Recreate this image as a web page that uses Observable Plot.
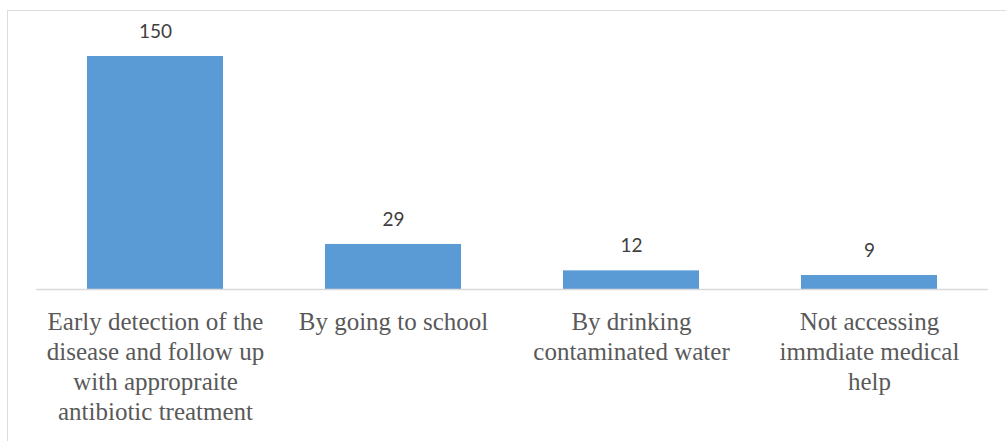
<!DOCTYPE html>
<html>
<head>
<meta charset="utf-8">
<script src="https://cdn.jsdelivr.net/npm/d3@7"></script>
<script src="https://cdn.jsdelivr.net/npm/@observablehq/plot@0.6"></script>
<style>
  html, body { margin: 0; padding: 0; background: #fff; overflow: hidden; }
  #wrap { position: relative; width: 1006px; height: 441px; }
  #border { position: absolute; left: 7px; top: 10px; width: 1010px; height: 450px;
            border-top: 1.5px solid #dcdcdc; border-left: 1.5px solid #dcdcdc; box-sizing: border-box; }
  #chart { position: absolute; left: 0; top: 0; }
</style>
</head>
<body>
<div id="wrap"><div id="border"></div><div id="chart"></div></div>
<script>
const categories = [
  "Early detection of the disease and follow up with appropraite antibiotic treatment",
  "By going to school",
  "By drinking contaminated water",
  "Not accessing immdiate medical help"
];
const categoryLines = [
  "Early detection of the\ndisease and follow up\nwith appropraite\nantibiotic treatment",
  "By going to school",
  "By drinking\ncontaminated water",
  "Not accessing\nimmdiate medical\nhelp"
];
const values = [150, 29, 12, 9];

const data = categories.map((c, i) => ({category: c, value: values[i], label: categoryLines[i]}));

const serifStack = "'Times New Roman', Times, 'Liberation Serif', Tinos, 'Noto Serif', 'Nimbus Roman', FreeSerif, 'DejaVu Serif', Georgia, serif";

const chart = Plot.plot({
  width: 1006,
  height: 441,
  marginLeft: 36,
  marginRight: 18,
  marginTop: 56,
  marginBottom: 152,
  x: {domain: categories, paddingInner: 0.43, paddingOuter: 0.215, label: null, axis: null},
  y: {domain: [0, 150], axis: null},
  marks: [
    Plot.barY(data, {x: "category", y: "value", fill: "#5b9bd5"}),
    Plot.ruleY([0], {stroke: "#d9d9d9", strokeWidth: 1.5}),
    Plot.text(data, {x: "category", y: "value", text: d => String(d.value), dy: -25,
      fontSize: 19, fontFamily: "Lato, 'Open Sans', sans-serif", fill: "#404040"}),
    Plot.text(data, {x: "category", frameAnchor: "bottom", text: "label", lineAnchor: "top",
      dy: 19, fontSize: 25, lineHeight: 1.2,
      fontFamily: serifStack, fill: "#595959"})
  ],
  style: {background: "transparent", overflow: "visible"}
});
document.getElementById("chart").appendChild(chart);
</script>
</body>
</html>
